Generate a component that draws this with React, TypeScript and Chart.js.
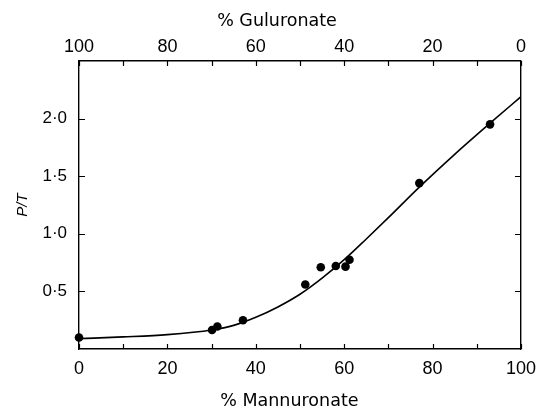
import React, { useEffect, useRef } from "react";
import { Chart, registerables } from "chart.js";
Chart.register(...registerables);

// Measured data points (% Mannuronate vs P/T)
const mannuronate = [0, 30.1, 31.3, 37.1, 51.2, 54.7, 58.1, 60.3, 61.2, 77.0, 93.0];
const pOverT = [0.1, 0.165, 0.195, 0.25, 0.56, 0.71, 0.72, 0.715, 0.775, 1.44, 1.95];

// Hand-drawn fitted curve
const curveX = [0, 10, 20, 30, 35, 40, 45, 50, 55, 60, 65, 70, 77, 85, 93, 100];
const curveY = [0.09, 0.105, 0.125, 0.165, 0.205, 0.275, 0.365, 0.475, 0.615, 0.775, 0.955, 1.14, 1.405, 1.69, 1.96, 2.19];

// Axis ticks / labels
const mannuronateTickLabels = [0, 20, 40, 60, 80, 100];
const guluronateTickLabels = [100, 80, 60, 40, 20, 0];
const minorTicks = [0, 10, 20, 30, 40, 50, 60, 70, 80, 90, 100];
const yTickValues = [0.5, 1.0, 1.5, 2.0];
const yTickLabels = ["0·5", "1·0", "1·5", "2·0"];

const topTitle = "% Guluronate";
const bottomTitle = "% Mannuronate";
const yTitle = "P/T";

const FONT = "'Liberation Sans', Arial, Helvetica, sans-serif";
const TITLE_FONT = "'DejaVu Sans', 'Liberation Sans', sans-serif";

const inwardTicks = {
  id: "inwardTicks",
  afterDatasetsDraw(chart: any) {
    const { ctx, chartArea, scales } = chart;
    const { left, right, top, bottom } = chartArea;
    ctx.save();
    ctx.strokeStyle = "#000";
    ctx.lineWidth = 1.2;
    ctx.beginPath();
    for (const v of minorTicks) {
      const px = Math.round(scales.x.getPixelForValue(v)) + 0.5;
      ctx.moveTo(px, bottom);
      ctx.lineTo(px, bottom - 5);
      const px2 = Math.round(scales.x2.getPixelForValue(v)) + 0.5;
      ctx.moveTo(px2, top);
      ctx.lineTo(px2, top + 5);
    }
    for (const v of yTickValues) {
      const py = Math.round(scales.y.getPixelForValue(v)) + 0.5;
      ctx.moveTo(left, py);
      ctx.lineTo(left + 6, py);
      ctx.moveTo(right, py);
      ctx.lineTo(right - 6, py);
    }
    ctx.stroke();

    // horizontal axis titles (slightly off-centre in the original figure)
    const w = right - left;
    ctx.fillStyle = "#000";
    ctx.font = `17.5px ${TITLE_FONT}`;
    ctx.textAlign = "center";
    ctx.textBaseline = "middle";
    ctx.fillText(topTitle, left + 0.448 * w, top - 40);
    ctx.fillText(bottomTitle, left + 0.476 * w, bottom + 52);
    ctx.restore();
  },
};

export default function App() {
  const ref = useRef<HTMLCanvasElement | null>(null);

  useEffect(() => {
    if (!ref.current) return;
    Chart.defaults.font.family = FONT;
    Chart.defaults.color = "#000";
    const chart = new Chart(ref.current, {
      type: "scatter",
      data: {
        datasets: [
          {
            label: "points",
            data: mannuronate.map((x, i) => ({ x, y: pOverT[i] })),
            backgroundColor: "#000",
            borderColor: "#000",
            pointRadius: 4.3,
            pointBorderWidth: 0,
            showLine: false,
            clip: false as any,
          },
          {
            label: "curve",
            data: curveX.map((x, i) => ({ x, y: curveY[i] })),
            borderColor: "#000",
            borderWidth: 1.6,
            pointRadius: 0,
            showLine: true,
            cubicInterpolationMode: "monotone",
          },
        ],
      },
      options: {
        animation: false,
        responsive: false,
        devicePixelRatio: 1,
        layout: { padding: 0 },
        plugins: { legend: { display: false }, tooltip: { enabled: false } },
        scales: {
          x: {
            type: "linear",
            position: "bottom",
            min: 0,
            max: 100,
            afterBuildTicks: (s: any) => {
              s.ticks = mannuronateTickLabels.map((v) => ({ value: v }));
            },
            afterFit: (s: any) => {
              s.height = 59;
            },
            ticks: { font: { size: 18 }, padding: 9, maxRotation: 0, autoSkip: false, color: "#000" },
            grid: { display: false, drawTicks: false },
            border: { display: true, color: "#000", width: 1.4 },
          },
          x2: {
            type: "linear",
            position: "top",
            min: 0,
            max: 100,
            reverse: true,
            afterBuildTicks: (s: any) => {
              s.ticks = guluronateTickLabels.map((v) => ({ value: v }));
            },
            afterFit: (s: any) => {
              s.height = 61;
            },
            ticks: { font: { size: 18 }, padding: 3.5, maxRotation: 0, autoSkip: false, color: "#000" },
            grid: { display: false, drawTicks: false },
            border: { display: true, color: "#000", width: 1.4 },
          },
          y: {
            type: "linear",
            position: "left",
            min: 0,
            max: 2.5,
            afterBuildTicks: (s: any) => {
              s.ticks = yTickValues.map((v) => ({ value: v }));
            },
            afterFit: (s: any) => {
              s.width = 79;
            },
            ticks: {
              font: { size: 17 },
              padding: 12,
              color: "#000",
              callback: (v: any) => {
                const i = yTickValues.findIndex((t) => Math.abs(t - v) < 1e-6);
                return i >= 0 ? yTickLabels[i] : "";
              },
            },
            grid: { display: false, drawTicks: false },
            border: { display: true, color: "#000", width: 1.4 },
            title: {
              display: true,
              text: yTitle,
              font: { size: 15, style: "italic", lineHeight: 1 },
              padding: { top: 15, bottom: 0 },
              color: "#000",
            },
          },
          y2: {
            type: "linear",
            position: "right",
            min: 0,
            max: 2.5,
            afterFit: (s: any) => {
              s.width = 8;
            },
            ticks: { display: false },
            grid: { display: false, drawTicks: false },
            border: { display: true, color: "#000", width: 1.4 },
          },
        },
      },
      plugins: [inwardTicks],
    } as any);
    return () => chart.destroy();
  }, []);

  return (
    <div style={{ position: "fixed", left: 0, top: 0, width: 545, height: 408, background: "#fff" }}>
      <canvas ref={ref} width={545} height={408} style={{ display: "block" }} />
    </div>
  );
}
